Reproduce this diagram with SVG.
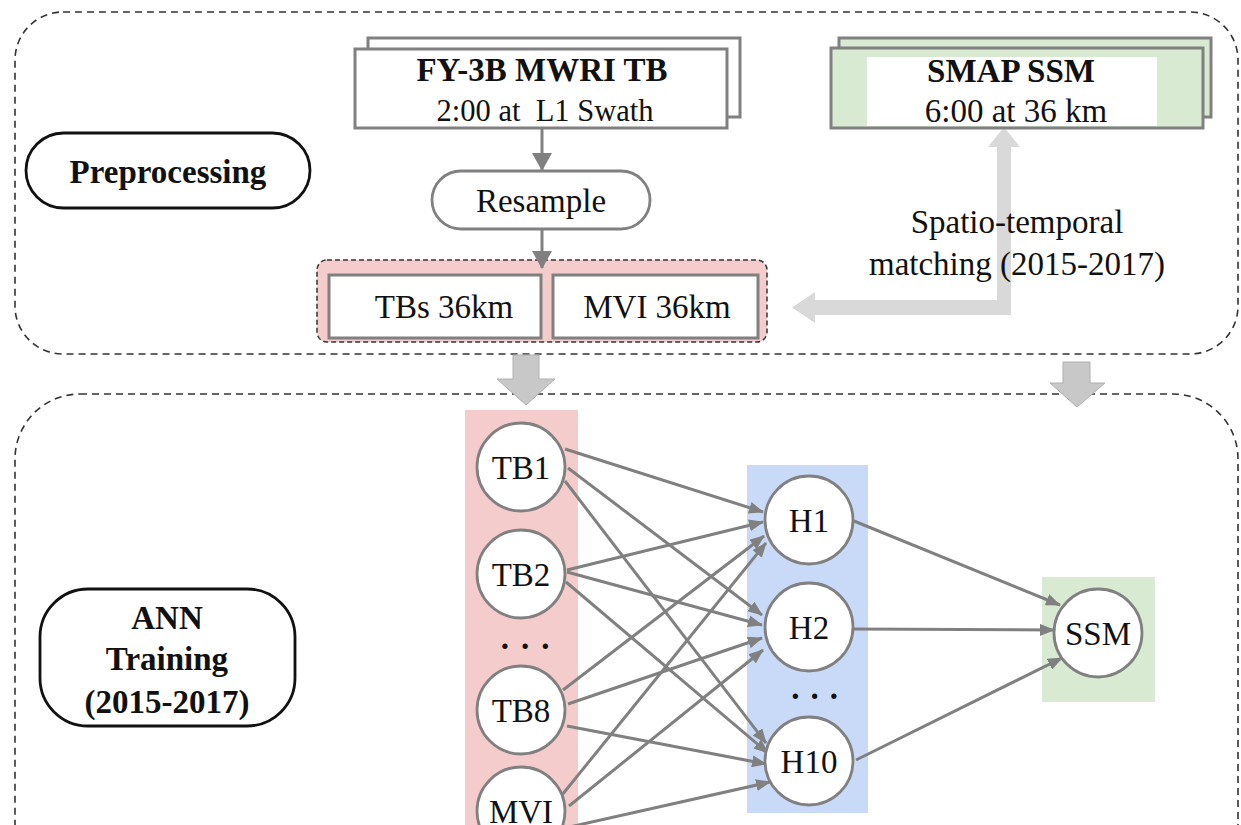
<svg xmlns="http://www.w3.org/2000/svg" width="1241" height="825" viewBox="0 0 1241 825">
<style>
text{font-family:"Liberation Serif","Times New Roman",serif;fill:#111;text-anchor:middle}
.b{font-weight:bold}
.t33{font-size:33px}
.panel{fill:none;stroke:#333;stroke-width:1.6;stroke-dasharray:7 5}
.box{fill:#fff;stroke:#808080;stroke-width:3}
.pill{fill:#fff;stroke:#111;stroke-width:2.8}
.circ{fill:#fff;stroke:#808080;stroke-width:2.8}
.ln{stroke:#808080;stroke-width:3;fill:none;marker-end:url(#ah)}
.blk{fill:#c8c8c8;stroke:#b0b0b0;stroke-width:1}
</style>
<defs>
<marker id="ah" markerUnits="userSpaceOnUse" markerWidth="15" markerHeight="12" refX="14" refY="6" orient="auto">
<path d="M0,0 L15,6 L0,12 z" fill="#808080"/>
</marker>
<marker id="ahb" markerUnits="userSpaceOnUse" markerWidth="18" markerHeight="20" refX="17" refY="10" orient="auto">
<path d="M0,0 L18,10 L0,20 z" fill="#808080"/>
</marker>
</defs>
<rect width="1241" height="825" fill="#fff"/>

<!-- panels -->
<rect class="panel" x="15" y="12" width="1223" height="342" rx="48"/>
<rect class="panel" x="15" y="394" width="1223" height="520" rx="65"/>

<!-- background bands -->
<rect x="317" y="260" width="450" height="82" rx="10" fill="#f4cccc" stroke="#333" stroke-width="1.5" stroke-dasharray="5 3"/>
<rect x="465" y="410" width="113" height="430" fill="#f4cccc"/>
<rect x="747" y="465" width="121" height="348" fill="#c9daf8"/>
<rect x="1042" y="577" width="113" height="125" fill="#d9ead3"/>

<g id="connectors">
<line class="ln" style="marker-end:url(#ahb)" x1="542" y1="128" x2="542" y2="170"/>
<line class="ln" style="marker-end:url(#ahb)" x1="542" y1="229" x2="542" y2="268"/>
<polygon fill="#d9d9d9" points="1004,127 1020,147 1011,147 1011,315 815,315 815,323 792,307.5 815,292 815,300 997,300 997,147 988,147"/>
<polygon class="blk" points="513,355 539,355 539,379 555,379 526,405 497,379 513,379"/>
<polygon class="blk" points="1063,362 1090,362 1090,383 1105,383 1077,407 1050,383 1063,383"/>
<line class="ln" x1="565" y1="449" x2="763" y2="512"/>
<line class="ln" x1="568" y1="468" x2="762" y2="615"/>
<line class="ln" x1="565" y1="481" x2="766" y2="743"/>
<line class="ln" x1="567" y1="570" x2="763" y2="522"/>
<line class="ln" x1="567" y1="572" x2="762" y2="625"/>
<line class="ln" x1="566" y1="582" x2="768" y2="753"/>
<line class="ln" x1="563" y1="690" x2="764" y2="536"/>
<line class="ln" x1="568" y1="704" x2="762" y2="638"/>
<line class="ln" x1="567" y1="726" x2="766" y2="764"/>
<line class="ln" x1="562" y1="795" x2="766" y2="543"/>
<line class="ln" x1="569" y1="806" x2="763" y2="650"/>
<line class="ln" x1="565" y1="828" x2="770" y2="782"/>
<line class="ln" x1="854" y1="521" x2="1060" y2="605"/>
<line class="ln" x1="853" y1="629" x2="1054" y2="630"/>
<line class="ln" x1="856" y1="760" x2="1062" y2="658"/>
</g>

<g id="preprocessing">
<rect class="pill" x="26" y="133" width="284" height="75" rx="37.5"/>
<text class="b t33" x="168" y="183">Preprocessing</text>
</g>

<g id="fy3b">
<rect class="box" x="368" y="38" width="372" height="79"/>
<rect class="box" x="355" y="49" width="372" height="79"/>
<text class="b t33" x="542" y="81">FY-3B MWRI TB</text>
<text x="545" y="121" style="font-size:30.5px">2:00 at&#160; L1 Swath</text>
</g>

<g id="smap">
<rect x="839" y="38" width="372" height="79" fill="#d9ead3" stroke="#808080" stroke-width="3"/>
<rect x="831" y="48" width="372" height="80" fill="#d9ead3" stroke="#808080" stroke-width="3"/>
<rect x="867" y="57" width="290" height="69" fill="#fff"/>
<text class="b t33" x="1011" y="82">SMAP SSM</text>
<text class="t33" x="1016" y="122">6:00 at 36 km</text>
</g>

<g id="resample">
<rect x="432" y="171" width="218" height="58" rx="29" fill="#fff" stroke="#808080" stroke-width="2.8"/>
<text class="t33" x="541" y="212">Resample</text>
</g>

<g id="tbs36">
<rect class="box" x="329" y="275" width="212" height="63"/>
<text class="t33" x="444" y="318">TBs 36km</text>
</g>
<g id="mvi36">
<rect class="box" x="553" y="275" width="205" height="63"/>
<text class="t33" x="657" y="318">MVI 36km</text>
</g>

<g id="matching-label">
<text class="t33" x="1017" y="233">Spatio-temporal</text>
<text class="t33" x="1017" y="275">matching (2015-2017)</text>
</g>

<g id="ann">
<rect class="pill" x="40" y="589" width="255" height="137" rx="48"/>
<text class="b t33" x="167" y="629">ANN</text>
<text class="b t33" x="167" y="670">Training</text>
<text class="b t33" x="167" y="713">(2015-2017)</text>
</g>

<g id="tb1"><circle class="circ" cx="521" cy="467" r="44"/><text class="t33" x="521" y="479">TB1</text></g>
<g id="tb2"><circle class="circ" cx="521" cy="574" r="44"/><text class="t33" x="521" y="586">TB2</text></g>
<g id="dots1"><text class="b t33" x="531" y="649" style="letter-spacing:12px">...</text></g>
<g id="tb8"><circle class="circ" cx="521" cy="710" r="44"/><text class="t33" x="521" y="722">TB8</text></g>
<g id="mvi"><circle class="circ" cx="521" cy="811" r="44"/><text class="t33" x="521" y="823">MVI</text></g>

<g id="h1"><circle class="circ" cx="809" cy="520" r="44"/><text class="t33" x="809" y="532">H1</text></g>
<g id="h2"><circle class="circ" cx="809" cy="627" r="44"/><text class="t33" x="809" y="639">H2</text></g>
<g id="dots2"><text class="b t33" x="820" y="699" style="letter-spacing:11px">...</text></g>
<g id="h10"><circle class="circ" cx="809" cy="761" r="44"/><text class="t33" x="809" y="773">H10</text></g>

<g id="ssm"><circle class="circ" cx="1098" cy="633" r="44"/><text class="t33" x="1098" y="645">SSM</text></g>
</svg>
